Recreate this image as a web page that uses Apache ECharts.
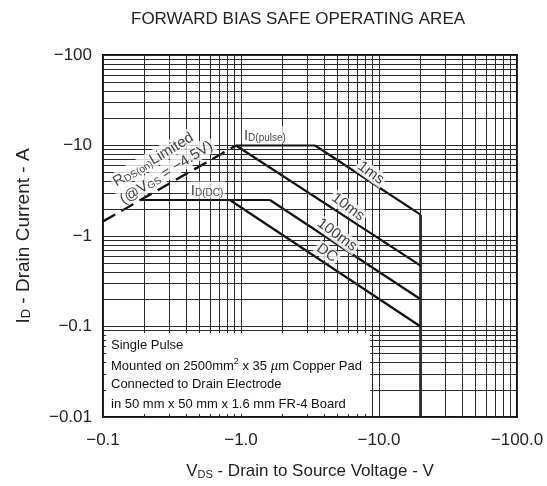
<!DOCTYPE html>
<html><head><meta charset="utf-8">
<script src="https://cdn.jsdelivr.net/npm/echarts@6/dist/echarts.min.js"></script>
<style>html,body{margin:0;padding:0;background:#fff}#c{width:547px;height:486px}</style>
</head><body><div id="c"></div>
<script>
// ---- tick labels ----
const xTickLabels = ['−0.1', '−1.0', '−10.0', '−100.0'];
const yTickLabels = ['−0.01', '−0.1', '−1', '−10', '−100'];
// minor grid positions (log decades 2..9)
const xMinorGrid = [0.2,0.3,0.4,0.5,0.6,0.7,0.8,0.9, 2,3,4,5,6,7,8,9, 20,30,40,50,60,70,80,90];
const yMinorGrid = [0.02,0.03,0.04,0.05,0.06,0.07,0.08,0.09, 0.2,0.3,0.4,0.5,0.6,0.7,0.8,0.9, 2,3,4,5,6,7,8,9, 20,30,40,50,60,70,80,90];
// ---- series values [VDS (V, magnitude), ID (A, magnitude)] ----
const rdsLimit   = [[0.1, 1.45], [0.92, 10]];
const idPulse    = [[0.92, 10], [3.44, 10]];
const pulse1ms   = [[3.44, 10], [20, 1.72]];
const pulse10ms  = [[0.92, 10], [20, 0.47]];
const idDC       = [[0.19, 2.5], [1.62, 2.5]];
const pulse100ms = [[1.62, 2.5], [20, 0.2]];
const dcLine     = [[0.83, 2.5], [20, 0.1]];
const vdsLimit   = [[20, 1.72], [20, 0.01]];

const FONT = '"Liberation Sans", Arial, Helvetica, sans-serif';
const INK = '#111';
const GRID = '#2a2a2a';

const chart = echarts.init(document.getElementById('c'), null, {renderer: 'canvas'});

function curve(data, width, dashed) {
  return {
    type: 'line', data: data, symbol: 'none', showSymbol: false, silent: true, z: 3,
    lineStyle: {color: INK, width: width, type: dashed ? [14, 7] : 'solid', cap: 'butt'},
    animation: false
  };
}
const subRich = {
  n: {fontSize: 15, fontFamily: FONT, color: INK, verticalAlign: 'bottom', lineHeight: 17},
  s: {fontSize: 10, fontFamily: FONT, color: INK, verticalAlign: 'bottom', lineHeight: 17}
};
function textMark(pt, text, rot) {
  return {
    type: 'scatter', data: [pt], symbolSize: 1, itemStyle: {color: 'rgba(0,0,0,0)'}, silent: true, z: 6,
    animation: false,
    label: {
      show: true, position: 'inside', formatter: text, rotate: rot,
      backgroundColor: '#fff', padding: [0, 2],
      color: INK, fontSize: 15, fontFamily: FONT, rich: subRich
    },
    labelLayout: {hideOverlap: false}
  };
}
function decadeIndex(v, min) { return Math.round(Math.log10(v) - Math.log10(min)); }

const option = {
  animation: false,
  backgroundColor: '#fff',
  title: {
    text: 'FORWARD BIAS SAFE OPERATING AREA',
    left: 126, top: 6,
    textStyle: {fontSize: 17, fontWeight: 'normal', color: '#222', fontFamily: FONT}
  },
  grid: {left: 103, right: 30, top: 55, bottom: 69, show: true, borderColor: INK, borderWidth: 2, backgroundColor: 'transparent'},
  xAxis: {
    type: 'log', logBase: 10, min: 0.1, max: 100,
    axisLine: {show: false}, axisTick: {show: false},
    splitLine: {show: true, lineStyle: {color: GRID, width: 1}},
    axisLabel: {
      color: '#222', fontSize: 17, fontFamily: FONT, margin: 15,
      formatter: v => xTickLabels[decadeIndex(v, 0.1)]
    },
    name: '{n|V}{s|DS}{n| - Drain to Source Voltage - V}',
    nameLocation: 'middle', nameGap: 43,
    nameTextStyle: {rich: {
      n: {fontSize: 17, fontFamily: FONT, color: '#222', verticalAlign: 'bottom', lineHeight: 20},
      s: {fontSize: 11, fontFamily: FONT, color: '#222', verticalAlign: 'bottom', lineHeight: 20}
    }}
  },
  yAxis: {
    type: 'log', logBase: 10, min: 0.01, max: 100,
    axisLine: {show: false}, axisTick: {show: false},
    splitLine: {show: true, lineStyle: {color: GRID, width: 1}},
    axisLabel: {
      color: '#222', fontSize: 17, fontFamily: FONT, margin: 11,
      formatter: v => yTickLabels[decadeIndex(v, 0.01)]
    },
    name: '{n|I}{s|D}{n| - Drain Current - A}',
    nameLocation: 'middle', nameGap: 70,
    nameTextStyle: {rich: {
      n: {fontSize: 19, fontFamily: FONT, color: '#222', verticalAlign: 'bottom', lineHeight: 22},
      s: {fontSize: 13, fontFamily: FONT, color: '#222', verticalAlign: 'bottom', lineHeight: 22}
    }}
  },
  series: [
    {
      type: 'line', data: [], silent: true, z: 1, animation: false,
      markLine: {
        silent: true, symbol: 'none', animation: false,
        label: {show: false},
        lineStyle: {color: GRID, width: 1, type: 'solid'},
        emphasis: {disabled: true},
        data: xMinorGrid.map(v => ({xAxis: v})).concat(yMinorGrid.map(v => ({yAxis: v})))
      }
    },
    curve(rdsLimit, 2.4, true),
    curve(idPulse, 2.2),
    curve(pulse1ms, 2.2),
    curve(pulse10ms, 2.2),
    curve(idDC, 2.2),
    curve(pulse100ms, 2.2),
    curve(dcLine, 2.2),
    curve(vdsLimit, 2.6),
    textMark([8.75, 4.97], '1ms', -36),
    textMark([5.96, 2.09], '10ms', -36),
    textMark([4.96, 1.03], '100ms', -36),
    textMark([4.20, 0.649], 'DC', -36),
    textMark([0.230, 7.09], '{n|R}{s|DS(on)}{n|Limited}', 31),
    textMark([0.286, 5.09], '{n|(@V}{s|GS}{n| = −4.5V)}', 32),
    textMark([1.49, 13.06], '{n|I}{s|D(pulse)}', 0),
    textMark([0.567, 3.22], '{n|I}{s|D(DC)}', 0)
  ],
  graphic: [
    {type: 'rect', z: 10, silent: true, shape: {x: 106, y: 333, width: 264, height: 81}, style: {fill: '#fff'}},
    {type: 'text', z: 11, silent: true, x: 111, y: 345, style: {text: 'Single Pulse', fill: INK, font: '13px ' + FONT, textVerticalAlign: 'middle'}},
    {type: 'text', z: 11, silent: true, x: 111, y: 365, style: {
      text: '{a|Mounted on 2500mm}{sup|2}{a| x 35 }{i|µ}{a|m Copper Pad}', fill: INK, font: '13px ' + FONT, textVerticalAlign: 'middle',
      rich: {
        a: {fontSize: 13, fontFamily: FONT, fill: INK, verticalAlign: 'bottom', lineHeight: 16},
        sup: {fontSize: 9, fontFamily: FONT, fill: INK, verticalAlign: 'top', lineHeight: 16},
        i: {fontSize: 13, fontFamily: FONT, fill: INK, fontStyle: 'italic', verticalAlign: 'bottom', lineHeight: 16}
      }
    }},
    {type: 'text', z: 11, silent: true, x: 111, y: 384, style: {text: 'Connected to Drain Electrode', fill: INK, font: '13px ' + FONT, textVerticalAlign: 'middle'}},
    {type: 'text', z: 11, silent: true, x: 111, y: 404, style: {text: 'in 50 mm x 50 mm x 1.6 mm FR-4 Board', fill: INK, font: '13px ' + FONT, textVerticalAlign: 'middle'}}
  ]
};
chart.setOption(option);
</script>
</body></html>
